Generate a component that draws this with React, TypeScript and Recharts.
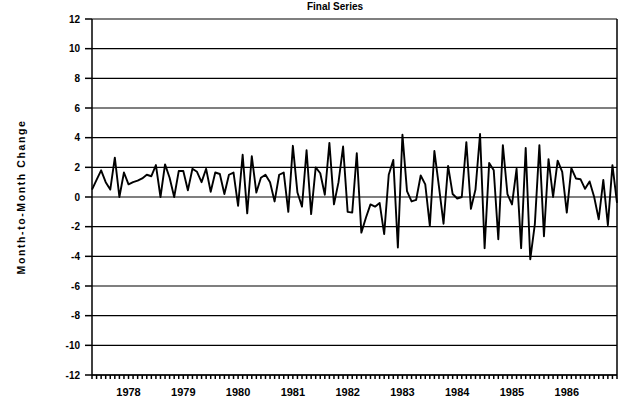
import { CartesianGrid, Line, LineChart, ReferenceLine, XAxis, YAxis } from "recharts";

// monthly changes, May 1977 .. Dec 1986
const firstYear = 1977;
const firstMonth = 5;
const changes = [
  0.5, 1.15, 1.8, 1.0, 0.5, 2.65, 0, 1.65, 0.85, 1.0, 1.1, 1.25, 1.5, 1.4, 2.15, 0,
  2.2, 1.3, 0, 1.75, 1.75, 0.45, 1.9, 1.7, 1.0, 1.9, 0.35, 1.65, 1.55, 0.2, 1.5, 1.65,
  -0.6, 2.85, -1.1, 2.75, 0.3, 1.3, 1.5, 1.0, -0.3, 1.5, 1.65, -1.0, 3.45, 0.3, -0.65, 3.15,
  -1.15, 2.0, 1.6, 0.15, 3.65, -0.5, 1.0, 3.4, -1.0, -1.05, 2.95, -2.4, -1.4, -0.5, -0.65, -0.4,
  -2.5, 1.5, 2.5, -3.4, 4.2, 0.4, -0.3, -0.2, 1.45, 0.85, -1.95, 3.1, 0.7, -1.8, 2.1, 0.2,
  -0.1, 0.0, 3.7, -0.8, 0.5, 4.25, -3.45, 2.3, 1.8, -2.85, 3.5, 0.2, -0.5, 1.9, -3.45, 3.3,
  -4.2, -1.85, 3.5, -2.65, 2.55, 0.0, 2.45, 1.7, -1.05, 1.95, 1.25, 1.2, 0.55, 1.05, 0.0, -1.5,
  1.15, -1.9, 2.15, -0.4,
];
const yearLabels = ["1978", "1979", "1980", "1981", "1982", "1983", "1984", "1985", "1986"];
const yTicks = [-12, -10, -8, -6, -4, -2, 0, 2, 4, 6, 8, 10, 12];

const data = changes.map((v, i) => ({ i, change: v }));
const monthTicks = changes.map((_, i) => i);

function yearAt(i: number) {
  const m = firstMonth - 1 + i;
  if (m % 12 !== 0) return "";
  const y = String(firstYear + m / 12);
  return yearLabels.includes(y) ? y : "";
}

const font = "'Liberation Sans', Arial, sans-serif";

export default function App() {
  return (
    <div style={{ position: "relative", width: 627, height: 408, background: "#fff", fontFamily: font }}>
      <style>{"body{margin:0}"}</style>
      <div
        style={{
          position: "absolute",
          left: 335,
          top: 1,
          transform: "translateX(-50%)",
          fontSize: 10,
          fontWeight: 700,
          whiteSpace: "nowrap",
        }}
      >
        Final Series
      </div>
      <div
        style={{
          position: "absolute",
          left: 21,
          top: 197,
          transform: "translate(-50%, -50%) rotate(-90deg)",
          fontSize: 10.5,
          fontWeight: 700,
          letterSpacing: 1.6,
          whiteSpace: "nowrap",
        }}
      >
        Month-to-Month Change
      </div>
      <LineChart width={627} height={408} data={data} margin={{ top: 19, right: 10, bottom: 3, left: 0 }}>
        <CartesianGrid vertical={false} stroke="#000" strokeWidth={1.2} />
        <XAxis
          dataKey="i"
          type="number"
          domain={[0, changes.length - 1]}
          ticks={monthTicks}
          interval={0}
          height={30}
          tickFormatter={yearAt}
          tickSize={4}
          tickMargin={9}
          stroke="#000"
          strokeWidth={1.5}
          tick={{ fill: "#000", fontSize: 11, fontWeight: 700, fontFamily: font }}
        />
        <YAxis
          domain={[-12, 12]}
          ticks={yTicks}
          interval={0}
          width={92}
          tickSize={7}
          tickMargin={5}
          stroke="#000"
          strokeWidth={1.5}
          tick={{ fill: "#000", fontSize: 10, fontWeight: 700, fontFamily: font }}
        />
        <ReferenceLine x={changes.length - 1} stroke="#000" strokeWidth={1.5} />
        <Line
          dataKey="change"
          stroke="#000"
          strokeWidth={1.9}
          dot={false}
          isAnimationActive={false}
          strokeLinejoin="round"
        />
      </LineChart>
    </div>
  );
}
